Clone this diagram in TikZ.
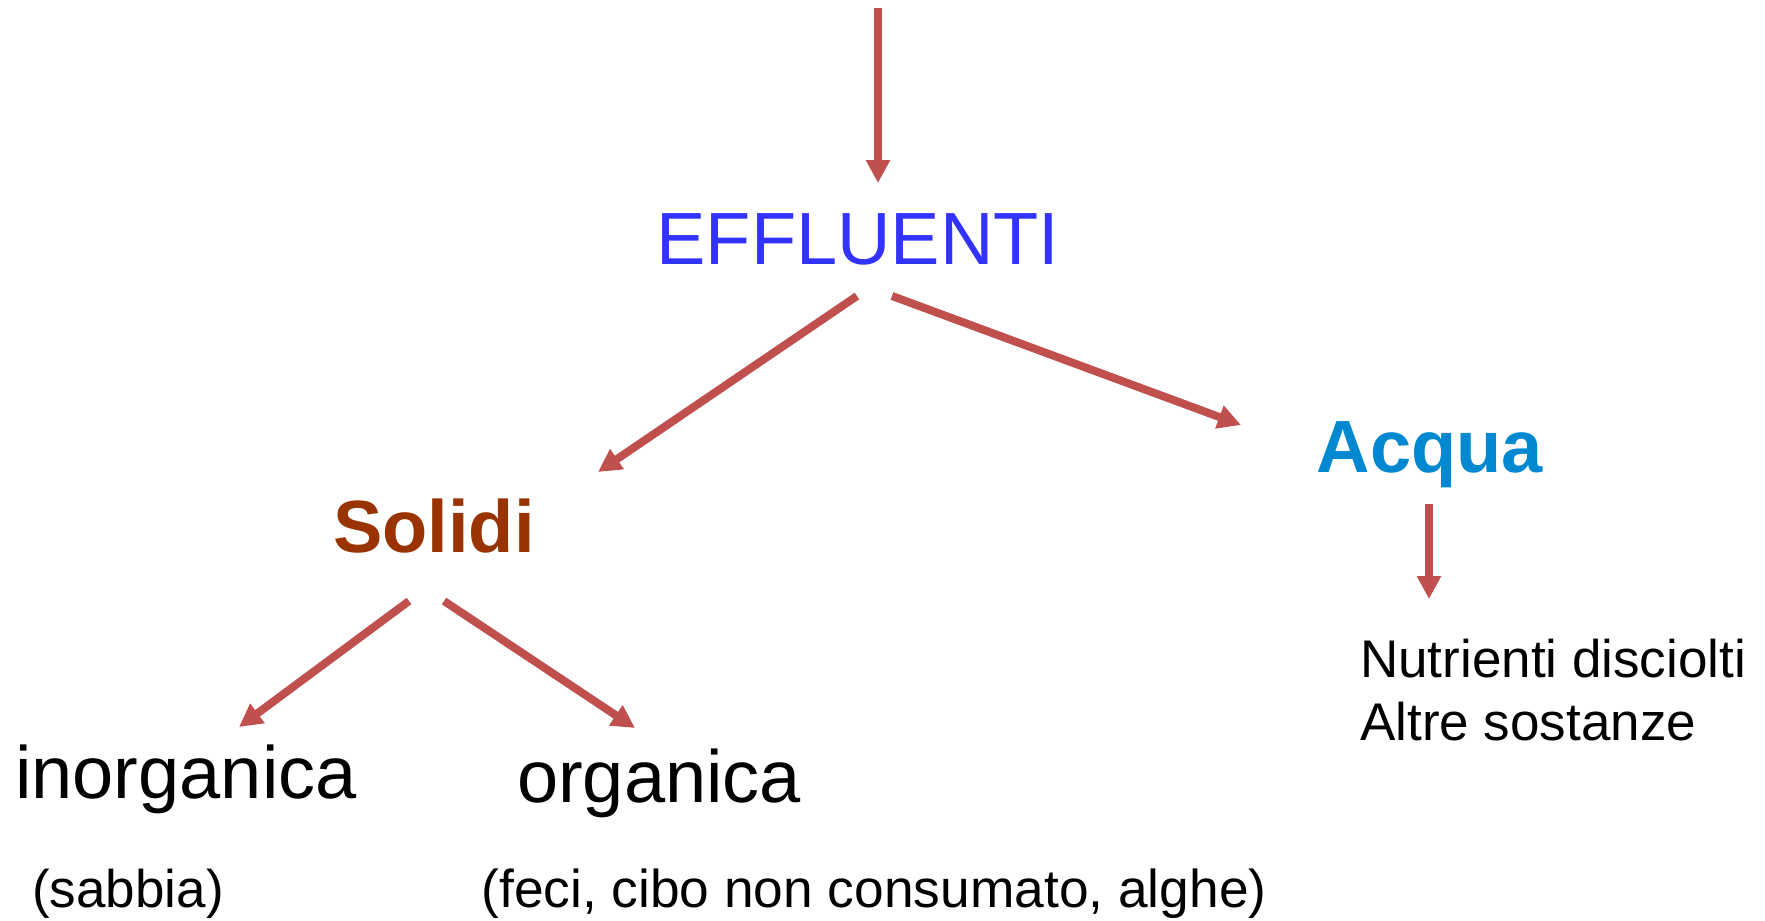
\documentclass[tikz,border=0pt]{standalone}
\usepackage{fontspec}
\setmainfont{Liberation Sans}
\usetikzlibrary{arrows.meta}
\definecolor{arrowred}{RGB}{192,80,77}
\definecolor{effblue}{RGB}{51,51,255}
\definecolor{solbrown}{RGB}{153,51,0}
\definecolor{acqblue}{RGB}{0,136,208}
\tikzset{
  big/.style={inner sep=0pt, anchor=base, font=\fontsize{74}{89}\selectfont},
  small/.style={inner sep=0pt, anchor=base, font=\fontsize{53}{63}\selectfont},
  flow/.style={draw=arrowred, line width=8pt, -{Triangle[length=23pt,width=23pt]}}
}
\begin{document}
\begin{tikzpicture}[x=1pt,y=-1pt]
\useasboundingbox (0,0) rectangle (1765,921);
% text nodes
\node[big, text=effblue] (eff) at (858,264) {EFFLUENTI};
\node[big, text=solbrown, font=\fontsize{74}{89}\selectfont\bfseries] (sol) at (434,552) {Solidi};
\node[big, text=acqblue, font=\fontsize{74}{89}\selectfont\bfseries] (acq) at (1430,472) {Acqua};
\node[big] (inorg) at (186,798) {inorganica};
\node[big] (org) at (659,802) {organica};
\node[small] (sab) at (128,907) {(sabbia)};
\node[small, font=\fontsize{53.3}{63}\selectfont] (feci) at (874,907) {(feci, cibo non consumato, alghe)};
\node[small, anchor=base west, align=left] (nut) at (1360,740) {Nutrienti disciolti\\Altre sostanze};
% connector end points
\coordinate (src) at (878,8);
\coordinate (effin) at (878,183);
\coordinate (effl) at (857,296);
\coordinate (effr) at (892,296);
\coordinate (solin) at (598,472);
\coordinate (acqin) at (1241,425);
\coordinate (soll) at (409,601);
\coordinate (solr) at (444,601);
\coordinate (inorgin) at (239,727);
\coordinate (orgin) at (635,728);
\coordinate (acqout) at (1429,504);
\coordinate (nutin) at (1429,599);
% connectors
\draw[flow] (src) -- (effin);
\draw[flow] (effl) -- (solin);
\draw[flow] (effr) -- (acqin);
\draw[flow] (soll) -- (inorgin);
\draw[flow] (solr) -- (orgin);
\draw[flow] (acqout) -- (nutin);
\end{tikzpicture}
\end{document}
